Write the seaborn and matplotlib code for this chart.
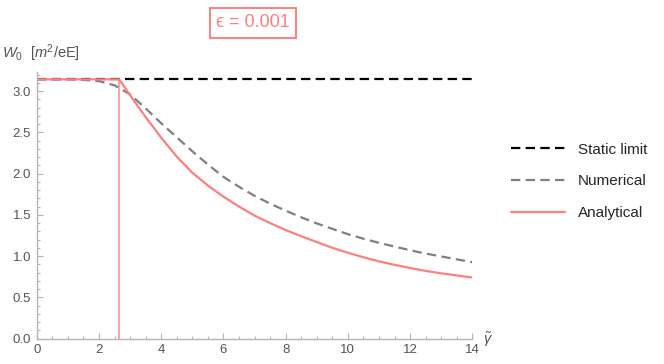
import matplotlib
matplotlib.use("Agg")
import matplotlib.pyplot as plt
import numpy as np
import pandas as pd
import seaborn as sns
from matplotlib.ticker import MultipleLocator

# values
static_gamma = [0.0, 14.0]
static_w = [3.1416, 3.1416]

num_gamma = [0.0, 1.0, 1.5, 2.0, 2.5, 3.0, 3.5, 4.0, 4.5, 5.0, 5.5, 6.0, 6.5, 7.0, 7.5,
             8.0, 8.5, 9.0, 9.5, 10.0, 10.5, 11.0, 11.5, 12.0, 12.5, 13.0, 13.5, 14.0]
num_w = [3.14, 3.14, 3.135, 3.12, 3.07, 2.96, 2.79, 2.61, 2.44, 2.27, 2.11, 1.96, 1.84, 1.73,
         1.635, 1.55, 1.47, 1.395, 1.33, 1.265, 1.21, 1.16, 1.115, 1.07, 1.03, 0.995, 0.96, 0.925]

ana_gamma = [0.0, 2.65, 3.0, 3.5, 4.0, 4.5, 5.0, 5.5, 6.0, 6.5, 7.0, 7.5, 8.0, 8.5, 9.0,
             9.5, 10.0, 10.5, 11.0, 11.5, 12.0, 12.5, 13.0, 13.5, 14.0]
ana_w = [3.1416, 3.1416, 2.95, 2.685, 2.435, 2.205, 2.01, 1.855, 1.72, 1.60, 1.49, 1.40, 1.315,
         1.24, 1.17, 1.10, 1.04, 0.985, 0.935, 0.893, 0.855, 0.82, 0.79, 0.765, 0.74]

gamma_c = 2.65
epsilon_label = "0.001"

sns.set_style("white")
plt.rcParams['font.family'] = ['Liberation Sans', 'DejaVu Sans']
plt.rcParams['mathtext.fontset'] = 'custom'
plt.rcParams['mathtext.rm'] = 'Liberation Sans'
plt.rcParams['mathtext.it'] = 'Liberation Sans:italic'

axis_grey = '#b5b5b5'
text_grey = '#555555'
pink = '#ff7f7f'

fig = plt.figure(figsize=(6.64, 3.64), dpi=100)
ax = fig.add_axes([0.0553, 0.070, 0.656, 0.732])

sns.lineplot(x=static_gamma, y=static_w, ax=ax, color='black', lw=1.6,
             label='Static limit', sort=False)
ax.lines[-1].set_dashes((4.2, 2.4))
sns.lineplot(x=num_gamma, y=num_w, ax=ax, color='#808080', lw=1.6,
             label='Numerical', sort=False)
ax.lines[-1].set_dashes((4.2, 2.4))
sns.lineplot(x=ana_gamma, y=ana_w, ax=ax, color=pink, lw=1.6,
             label='Analytical', sort=False)
ax.vlines(gamma_c, 0, static_w[0], color=pink, lw=1.2, alpha=0.85)

ax.set_xlim(0, 14)
ax.set_ylim(0, 3.23)
ax.xaxis.set_major_locator(MultipleLocator(2))
ax.xaxis.set_minor_locator(MultipleLocator(0.5))
ax.yaxis.set_major_locator(MultipleLocator(0.5))
ax.yaxis.set_minor_locator(MultipleLocator(0.1))
ax.set_yticks(np.arange(0, 3.01, 0.5))
ax.set_yticklabels([f"{v:.1f}" for v in np.arange(0, 3.01, 0.5)])

for side in ['top', 'right']:
    ax.spines[side].set_visible(False)
for side in ['left', 'bottom']:
    ax.spines[side].set_color(axis_grey)
    ax.spines[side].set_linewidth(1.0)
ax.tick_params(which='both', direction='in', color=axis_grey, width=0.8,
               labelcolor=text_grey, labelsize=9.5, left=True, bottom=True)
ax.tick_params(which='major', length=4.5, pad=4)
ax.tick_params(which='minor', length=2.5)

ax.set_xlabel('')
ax.set_ylabel('')
fig.text(0.003, 0.854, r"$W_0$  [$m^2$/eE]", color=text_grey, fontsize=10.5,
         ha='left', va='center')
fig.text(0.727, 0.068, r"$\tilde{\gamma}$", color=text_grey, fontsize=10.5,
         ha='left', va='center')

fig.text(0.381, 0.937, "ϵ = " + epsilon_label, color=pink, fontsize=13,
         family=['Liberation Sans', 'DejaVu Sans'], ha='center', va='center',
         bbox=dict(boxstyle='square,pad=0.35', fc='white', ec=pink, lw=1.4))

ax.legend(loc='center left', bbox_to_anchor=(1.075, 0.59), frameon=False,
          fontsize=11, handlelength=3.5, handletextpad=0.85, labelspacing=1.15,
          borderaxespad=0)

fig.savefig('out.png', dpi=100)
